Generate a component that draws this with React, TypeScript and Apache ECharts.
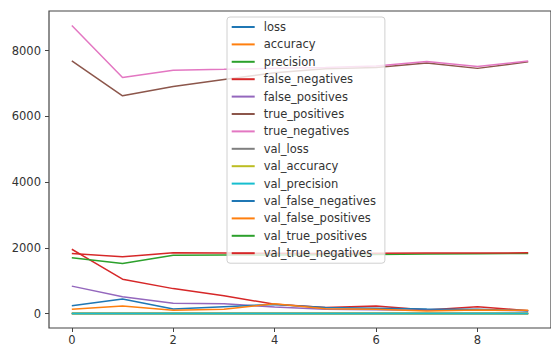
import React, { useEffect, useRef } from "react";
import * as echarts from "echarts";

const epochs = [0, 1, 2, 3, 4, 5, 6, 7, 8, 9];
const seriesNames = [
  "loss",
  "accuracy",
  "precision",
  "false_negatives",
  "false_positives",
  "true_positives",
  "true_negatives",
  "val_loss",
  "val_accuracy",
  "val_precision",
  "val_false_negatives",
  "val_false_positives",
  "val_true_positives",
  "val_true_negatives",
];
const loss = [0.52, 0.39, 0.34, 0.31, 0.29, 0.28, 0.27, 0.26, 0.25, 0.24];
const accuracy = [0.78, 0.83, 0.85, 0.86, 0.87, 0.88, 0.88, 0.89, 0.89, 0.9];
const precision = [0.8, 0.84, 0.86, 0.87, 0.88, 0.88, 0.89, 0.89, 0.9, 0.9];
const falseNegatives = [1957, 1048, 760, 545, 282, 182, 230, 110, 212, 90];
const falsePositives = [836, 515, 312, 300, 200, 130, 120, 100, 110, 90];
const truePositives = [7685, 6624, 6909, 7120, 7330, 7450, 7490, 7620, 7460, 7660];
const trueNegatives = [8767, 7182, 7403, 7430, 7460, 7490, 7533, 7667, 7515, 7685];
const valLoss = [0.45, 0.4, 0.36, 0.34, 0.33, 0.32, 0.31, 0.31, 0.3, 0.3];
const valAccuracy = [0.82, 0.84, 0.86, 0.87, 0.87, 0.88, 0.88, 0.88, 0.89, 0.89];
const valPrecision = [0.83, 0.85, 0.86, 0.87, 0.88, 0.88, 0.89, 0.89, 0.89, 0.9];
const valFalseNegatives = [240, 442, 140, 210, 280, 182, 160, 140, 130, 90];
const valFalsePositives = [130, 230, 100, 130, 300, 150, 130, 80, 110, 100];
const valTruePositives = [1697, 1524, 1776, 1780, 1785, 1790, 1800, 1810, 1820, 1830];
const valTrueNegatives = [1827, 1727, 1848, 1840, 1835, 1830, 1835, 1840, 1845, 1848];

const allValues = [
  loss,
  accuracy,
  precision,
  falseNegatives,
  falsePositives,
  truePositives,
  trueNegatives,
  valLoss,
  valAccuracy,
  valPrecision,
  valFalseNegatives,
  valFalsePositives,
  valTruePositives,
  valTrueNegatives,
];
const xTicks = [0, 2, 4, 6, 8];
const yTicks = [0, 2000, 4000, 6000, 8000];
const palette = [
  "#1f77b4",
  "#ff7f0e",
  "#2ca02c",
  "#d62728",
  "#9467bd",
  "#8c564b",
  "#e377c2",
  "#7f7f7f",
  "#bcbd22",
  "#17becf",
];

export default function App() {
  const ref = useRef<HTMLDivElement>(null);
  useEffect(() => {
    if (!ref.current) return;
    const chart = echarts.init(ref.current, undefined, { renderer: "svg" });
    const flat = allValues.flat();
    const dmin = Math.min(...flat);
    const dmax = Math.max(...flat);
    const pad = (dmax - dmin) * 0.05;
    const font = "DejaVu Sans";
    chart.setOption({
      animation: false,
      color: palette,
      textStyle: { fontFamily: font },
      grid: {
        left: 49,
        top: 11,
        width: 510,
        height: 319,
        show: true,
        borderColor: "#444",
        borderWidth: 1.2,
        backgroundColor: "transparent",
      },
      xAxis: {
        type: "value",
        min: -0.45,
        max: 9.45,
        splitLine: { show: false },
        axisLine: { show: false, onZero: false },
        axisTick: {
          show: true,
          length: 4,
          customValues: xTicks,
          lineStyle: { color: "#444" },
        },
        axisLabel: {
          customValues: xTicks,
          margin: 6,
          fontSize: 11.5,
          color: "#333",
          fontFamily: font,
          formatter: (v: number) => String(v),
        },
      },
      yAxis: {
        type: "value",
        min: dmin - pad,
        max: dmax + pad,
        splitLine: { show: false },
        axisLine: { show: false, onZero: false },
        axisTick: {
          show: true,
          length: 4,
          customValues: yTicks,
          lineStyle: { color: "#444" },
        },
        axisLabel: {
          customValues: yTicks,
          margin: 8,
          fontSize: 11.5,
          color: "#333",
          fontFamily: font,
          formatter: (v: number) => String(v),
        },
      },
      legend: {
        orient: "vertical",
        left: 227,
        top: 17,
        icon: "rect",
        itemWidth: 23,
        itemHeight: 2,
        itemGap: 3.4,
        padding: [3, 9, 3, 4.7],
        backgroundColor: "rgba(255,255,255,0.8)",
        borderColor: "#d0d0d0",
        borderWidth: 1,
        borderRadius: 3,
        textStyle: {
          fontSize: 11.5,
          lineHeight: 14,
          color: "#333",
          fontFamily: font,
          padding: [0, 0, 0, 4],
        },
        data: seriesNames,
      },
      series: seriesNames.map((name, i) => ({
        name,
        type: "line",
        data: epochs.map((e, j) => [e, allValues[i][j]]),
        showSymbol: false,
        symbol: "none",
        lineStyle: { width: 1.5 },
        clip: false,
      })),
    });
    return () => chart.dispose();
  }, []);
  return (
    <div
      ref={ref}
      style={{ position: "absolute", left: 0, top: 0, width: 551, height: 346, background: "#fff" }}
    />
  );
}
